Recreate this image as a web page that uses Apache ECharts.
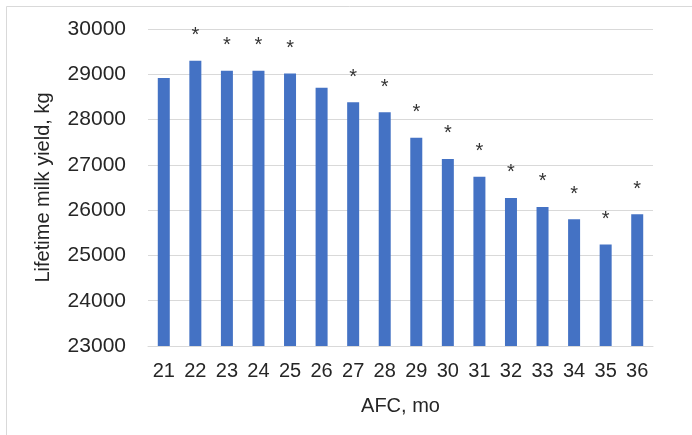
<!DOCTYPE html>
<html>
<head>
<meta charset="utf-8">
<script src="https://cdn.jsdelivr.net/npm/echarts@6/dist/echarts.min.js"></script>
<style>
  html, body { margin: 0; padding: 0; background: #ffffff; }
  #chart { width: 692px; height: 435px; }
</style>
</head>
<body>
<div id="chart"></div>
<script>
// Age at first calving (months) and lifetime milk yield (kg)
const afcMonths = ['21', '22', '23', '24', '25', '26', '27', '28', '29', '30', '31', '32', '33', '34', '35', '36'];
const milkYield = [28920, 29300, 29080, 29080, 29020, 28700, 28380, 28160, 27600, 27130, 26740, 26270, 26070, 25800, 25240, 25910];
// Significance markers shown above each bar
const sigMarks = ['', '*', '*', '*', '*', '', '*', '*', '*', '*', '*', '*', '*', '*', '*', '*'];
const yTicks = { min: 23000, max: 30000, step: 1000 };

const FONT = 'Liberation Sans, Arial, sans-serif';
const TEXT = '#262626';

const chart = echarts.init(document.getElementById('chart'), null, { renderer: 'canvas' });
chart.setOption({
  animation: false,
  backgroundColor: '#ffffff',
  graphic: [{
    type: 'rect',
    shape: { x: 6.5, y: 6.5, width: 700, height: 450 },
    style: { fill: 'none', stroke: '#d9d9d9', lineWidth: 1 },
    z: -1
  }],
  grid: { left: 148, right: 39, top: 29, bottom: 89 },
  xAxis: {
    type: 'category',
    data: afcMonths,
    name: 'AFC, mo',
    nameLocation: 'middle',
    nameGap: 50,
    nameTextStyle: { fontFamily: FONT, fontSize: 20, color: TEXT },
    axisLine: { lineStyle: { color: '#d9d9d9', width: 1 } },
    axisTick: { show: false },
    axisLabel: { fontFamily: FONT, fontSize: 20, color: TEXT, margin: 15 }
  },
  yAxis: {
    type: 'value',
    min: yTicks.min,
    max: yTicks.max,
    interval: yTicks.step,
    name: 'Lifetime milk yield, kg',
    nameLocation: 'middle',
    nameGap: 95,
    nameTextStyle: { fontFamily: FONT, fontSize: 20, color: TEXT },
    axisLine: { show: false },
    axisTick: { show: false },
    splitLine: { lineStyle: { color: '#d9d9d9', width: 1 } },
    axisLabel: {
      fontFamily: FONT, fontSize: 21, color: TEXT, margin: 22,
      formatter: (v) => String(v)
    }
  },
  series: [{
    type: 'bar',
    data: milkYield,
    barWidth: 12,
    itemStyle: { color: '#4472c4' },
    label: {
      show: true,
      position: 'top',
      distance: 15,
      fontFamily: FONT,
      fontSize: 20,
      color: '#333333',
      formatter: (p) => sigMarks[p.dataIndex]
    }
  }]
});
</script>
</body>
</html>
